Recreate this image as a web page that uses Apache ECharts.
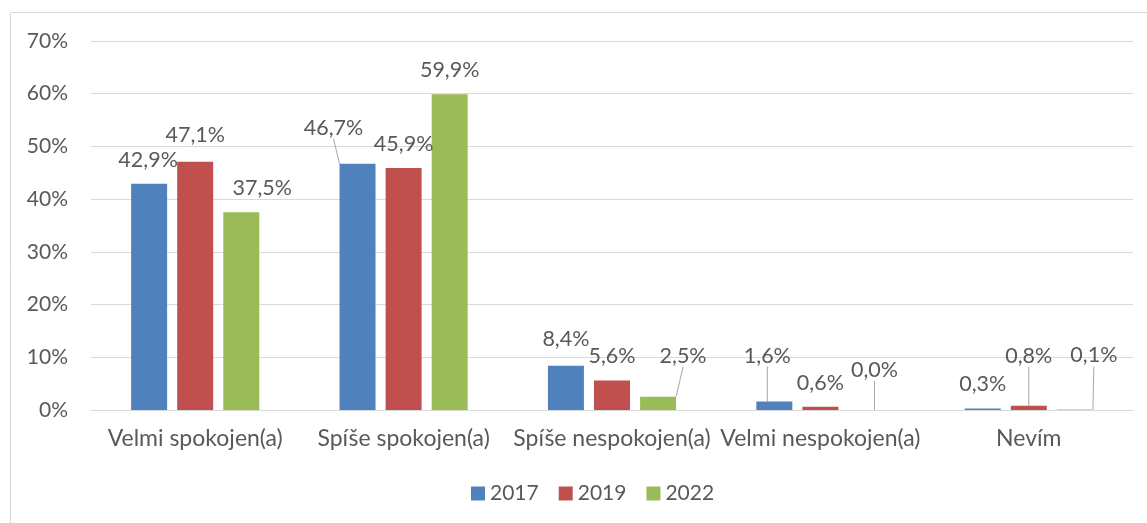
<!DOCTYPE html>
<html>
<head>
<meta charset="utf-8">
<script src="https://cdn.jsdelivr.net/npm/echarts@6/dist/echarts.min.js"></script>
<style>
  html, body { margin: 0; padding: 0; background: #fff; }
  #chart { width: 1147px; height: 523px; }
</style>
</head>
<body>
<div id="chart"></div>
<script>
// kategorie a hodnoty (%)
var categories = ['Velmi spokojen(a)', 'Spíše spokojen(a)', 'Spíše nespokojen(a)', 'Velmi nespokojen(a)', 'Nevím'];
var years = ['2017', '2019', '2022'];
var val_2017 = [42.9, 46.7, 8.4, 1.6, 0.3];
var val_2019 = [47.1, 45.9, 5.6, 0.6, 0.8];
var val_2022 = [37.5, 59.9, 2.5, 0.0, 0.1];

// posunuti popisku (dx, dy) a ktere maji vodici caru
var labelShift = [
  [[-1, 0], [-24, -12], [0, -3], [-7, -22], [0, 0]],
  [[0, -3], [0, 0], [0, 0], [0, 0], [0, -26]],
  [[21, 0], [0, 0], [25, -17], [8, -16], [19, -30]]
];
var leader = [
  [false, true, false, true, false],
  [false, false, false, false, true],
  [false, false, true, true, true]
];

var colors = ['#4F81BD', '#C0504D', '#9BBB59'];
var font = 'Lato, "Open Sans", sans-serif';

var chart = echarts.init(document.getElementById('chart'));

function makeSeries(idx, values) {
  return {
    name: years[idx],
    type: 'bar',
    barWidth: 36,
    barGap: '28%',
    itemStyle: { color: colors[idx] },
    label: {
      show: true,
      position: 'top',
      distance: 13,
      color: '#595959',
      fontFamily: font,
      fontSize: 21.5,
      formatter: function (p) {
        return p.value.toFixed(1).replace('.', ',') + '%';
      }
    },
    labelLine: {
      show: false,
      lineStyle: { color: '#a6a6a6', width: 1 }
    },
    labelLayout: function (params) {
      var s = labelShift[params.seriesIndex][params.dataIndex];
      return { dx: s[0], dy: s[1] };
    },
    data: values.map(function (v, i) {
      return leader[idx][i] ? { value: v, labelLine: { show: true } } : v;
    })
  };
}

var option = {
  animation: false,
  color: colors,
  graphic: [{
    type: 'rect',
    shape: { x: 10.5, y: 12.5, width: 1300, height: 700 },
    style: { fill: 'none', stroke: '#d9d9d9', lineWidth: 1 },
    silent: true
  }],
  legend: {
    data: years,
    bottom: 14,
    left: 466,
    itemWidth: 14,
    itemHeight: 14,
    itemGap: 20,
    icon: 'rect',
    textStyle: { color: '#595959', fontSize: 21, fontFamily: font }
  },
  grid: {
    left: 91,
    right: 14,
    top: 41,
    bottom: 113
  },
  xAxis: {
    type: 'category',
    data: categories,
    axisLine: { lineStyle: { color: '#d9d9d9', width: 1 } },
    axisTick: { show: false },
    axisLabel: {
      color: '#595959',
      fontSize: 23,
      fontFamily: font,
      margin: 17,
      interval: 0
    }
  },
  yAxis: {
    type: 'value',
    min: 0,
    max: 70,
    interval: 10,
    axisLine: { show: false },
    axisTick: { show: false },
    splitLine: { lineStyle: { color: '#d9d9d9', width: 1 } },
    axisLabel: {
      color: '#595959',
      fontSize: 21,
      fontFamily: font,
      margin: 23,
      formatter: '{value}%'
    }
  },
  series: [
    makeSeries(0, val_2017),
    makeSeries(1, val_2019),
    makeSeries(2, val_2022)
  ]
};

chart.setOption(option);
</script>
</body>
</html>
